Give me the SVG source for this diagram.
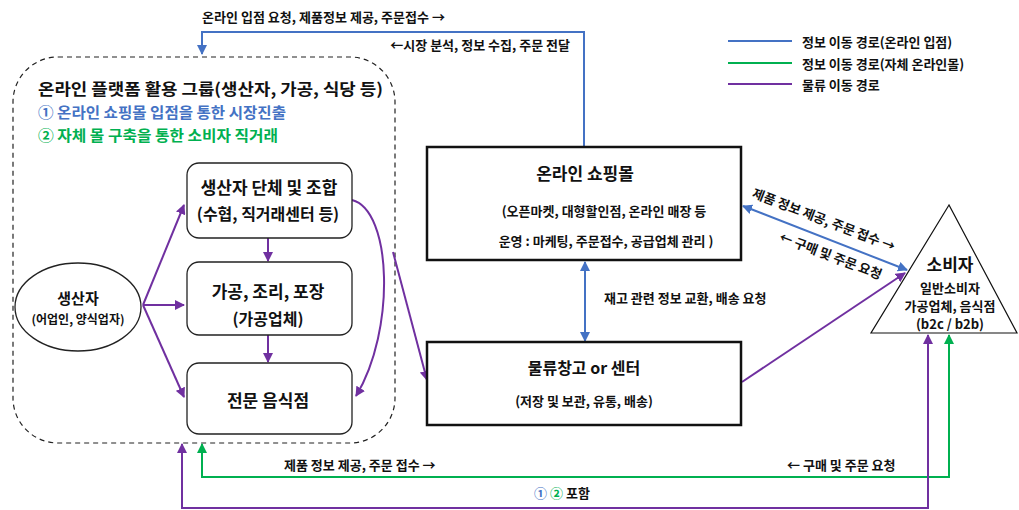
<svg xmlns="http://www.w3.org/2000/svg" width="1019" height="510" viewBox="0 0 1019 510">
<style>
text{font-family:"Noto Sans CJK KR","Noto Sans",sans-serif;fill:#111;text-anchor:middle;dominant-baseline:central;font-weight:bold}
.s{font-size:13px}
.m{font-size:15px}
.bx{font-size:17px}
.bx2{font-size:16px}
.l{font-size:16px}
.b{fill:#4472C4}
.g{fill:#00B050}
.st{text-anchor:start}
.box{fill:#fff;stroke:#222;stroke-width:1.3}
.tb{fill:#fff;stroke:#111;stroke-width:2.5}
.bl{stroke:#4472C4;stroke-width:2;fill:none}
.gr{stroke:#00B050;stroke-width:2;fill:none}
.pu{stroke:#7030A0;stroke-width:2;fill:none}
</style>
<defs>
<marker id="ab" viewBox="0 0 10 10" refX="9" refY="5" markerWidth="10" markerHeight="10" markerUnits="userSpaceOnUse" orient="auto-start-reverse"><path d="M0,0 L10,5 L0,10 z" fill="#4472C4"/></marker>
<marker id="ag" viewBox="0 0 10 10" refX="9" refY="5" markerWidth="10" markerHeight="10" markerUnits="userSpaceOnUse" orient="auto-start-reverse"><path d="M0,0 L10,5 L0,10 z" fill="#00B050"/></marker>
<marker id="ap" viewBox="0 0 10 10" refX="9" refY="5" markerWidth="10" markerHeight="10" markerUnits="userSpaceOnUse" orient="auto-start-reverse"><path d="M0,0 L10,5 L0,10 z" fill="#7030A0"/></marker>
</defs>
<rect width="1019" height="510" fill="#fff"/>

<g id="group">
<rect x="13" y="57" width="382" height="386" rx="45" ry="45" fill="none" stroke="#222" stroke-width="1.2" stroke-dasharray="5,4"/>
<text class="l st" x="38" y="88" textLength="345" lengthAdjust="spacingAndGlyphs">온라인 플랫폼  활용 그룹(생산자, 가공, 식당 등)</text>
<text class="m st b" x="38" y="111" textLength="248" lengthAdjust="spacingAndGlyphs">① 온라인 쇼핑몰 입점을 통한 시장진출</text>
<text class="m st g" x="38" y="134" textLength="240" lengthAdjust="spacingAndGlyphs">② 자체 몰 구축을 통한 소비자 직거래</text>
</g>

<g id="legend">
<line x1="728" y1="41" x2="792" y2="41" stroke="#4472C4" stroke-width="2"/>
<line x1="728" y1="63" x2="792" y2="63" stroke="#00B050" stroke-width="2"/>
<line x1="728" y1="84" x2="792" y2="84" stroke="#7030A0" stroke-width="2"/>
<text class="s st" x="802" y="41">정보 이동 경로(온라인 입점)</text>
<text class="s st" x="802" y="63">정보 이동 경로(자체  온라인몰)</text>
<text class="s st" x="802" y="84">물류 이동 경로</text>
</g>

<g id="connectors">
<polyline class="bl" points="584,147 584,32 202,32 202,54" marker-end="url(#ab)"/>
<text class="s st" x="202" y="16" textLength="243" lengthAdjust="spacingAndGlyphs">온라인 입점 요청, 제품정보 제공, 주문접수 →</text>
<text class="s" x="570" y="44" style="text-anchor:end">←시장 분석, 정보 수집, 주문 전달</text>

<line class="pu" x1="143" y1="305" x2="184" y2="205" marker-end="url(#ap)"/>
<line class="pu" x1="143" y1="305" x2="184" y2="305" marker-end="url(#ap)"/>
<line class="pu" x1="143" y1="305" x2="184" y2="397" marker-end="url(#ap)"/>
<line class="pu" x1="268" y1="238" x2="268" y2="261" marker-end="url(#ap)"/>
<line class="pu" x1="268" y1="335" x2="268" y2="362" marker-end="url(#ap)"/>
<path class="pu" d="M352,200 C392,210 396,330 356,396" marker-end="url(#ap)"/>
<line class="pu" x1="393" y1="252" x2="427" y2="380" marker-end="url(#ap)"/>

<line class="bl" x1="585" y1="262" x2="585" y2="341" marker-start="url(#ab)" marker-end="url(#ab)"/>
<text class="s st" x="604" y="297">재고 관련  정보 교환, 배송 요청</text>

<line class="pu" x1="742" y1="382" x2="905" y2="273" marker-end="url(#ap)"/>
<line class="bl" x1="743" y1="206" x2="907" y2="270" marker-start="url(#ab)" marker-end="url(#ab)"/>
<text class="s" transform="translate(824,219) rotate(21)">제품 정보 제공, 주문 접수 →</text>
<text class="s" transform="translate(831,255) rotate(21)">← 구매 및 주문 요청</text>

<polyline class="gr" points="949,335 949,477 202,477 202,444" marker-start="url(#ag)" marker-end="url(#ag)"/>
<polyline class="pu" points="928,335 928,508 182,508 182,444" marker-start="url(#ap)" marker-end="url(#ap)"/>
<text class="s st" x="284" y="464">제품 정보 제공, 주문 접수 →</text>
<text class="s st" x="787" y="464">← 구매 및 주문 요청</text>
<text class="s" x="562" y="492"><tspan class="b">①</tspan> <tspan class="g">②</tspan> 포함</text>
</g>

<g id="producer">
<ellipse cx="78" cy="307" rx="63" ry="44" class="box"/>
<text class="m" x="78" y="297">생산자</text>
<text x="78" y="318" style="font-size:12px">(어업인, 양식업자)</text>
</g>

<g id="union">
<rect x="187" y="163" width="165" height="75" rx="12" class="box"/>
<text class="bx" x="269" y="186">생산자 단체  및 조합</text>
<text class="bx2" x="268" y="213">(수협, 직거래센터 등)</text>
</g>

<g id="processing">
<rect x="187" y="262" width="165" height="73" rx="12" class="box"/>
<text class="bx" x="268" y="290">가공, 조리, 포장</text>
<text class="bx2" x="268" y="318">(가공업체)</text>
</g>

<g id="restaurant">
<rect x="187" y="363" width="165" height="71" rx="12" class="box"/>
<text class="bx" x="268" y="399">전문 음식점</text>
</g>

<g id="mall">
<rect x="427" y="147" width="314" height="113" class="tb"/>
<text class="bx" x="585" y="172">온라인 쇼핑몰</text>
<text class="s" x="604" y="210">(오픈마켓, 대형할인점, 온라인 매장 등</text>
<text class="s" x="606" y="240">운영 : 마케팅, 주문접수, 공급업체 관리 )</text>
</g>

<g id="warehouse">
<rect x="427" y="342" width="314" height="83" class="tb"/>
<text class="bx2" x="584" y="367">물류창고 or 센터</text>
<text class="s" x="584" y="400">(저장 및 보관, 유통, 배송)</text>
</g>

<g id="consumer">
<polygon points="949,205 871,333 1017,333" fill="#fff" stroke="#111" stroke-width="1.2"/>
<text class="l" x="950" y="263" style="font-size:17px">소비자</text>
<text class="s" x="950" y="287">일반소비자</text>
<text class="s" x="950" y="305">가공업체,  음식점</text>
<text class="s" x="950" y="323">(b2c  /  b2b)</text>
</g>
</svg>
